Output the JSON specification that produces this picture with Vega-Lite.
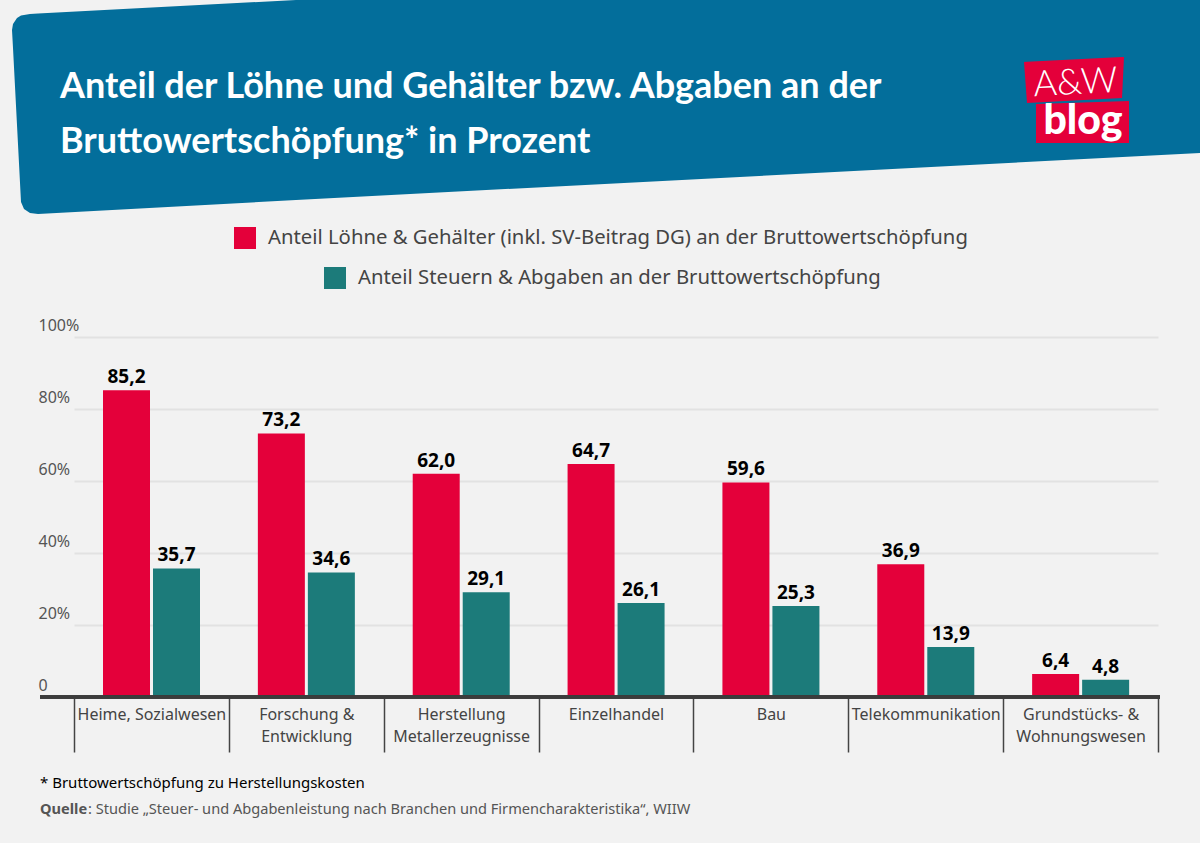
{
  "$schema": "https://vega.github.io/schema/vega-lite/v6.json",
  "width": 1120,
  "height": 360,
  "autosize": {"type": "none"},
  "padding": {"left": 40, "top": 337, "right": 40, "bottom": 146},
  "background": "#f2f2f2",
  "title": {
    "text": ["Anteil der Löhne und Gehälter bzw. Abgaben an der", "Bruttowertschöpfung* in Prozent"],
    "anchor": "start",
    "frame": "group",
    "dx": 20,
    "offset": -161,
    "font": "Lato",
    "fontSize": 36,
    "fontWeight": "bold",
    "lineHeight": 55,
    "color": "#ffffff"
  },
  "layer": [
    {
      "encoding": {
        "x": {"field": "px", "type": "quantitative", "scale": {"domain": [0, 1200], "range": [-40, 1160]}, "axis": null},
        "y": {"field": "py", "type": "quantitative", "scale": {"domain": [0, 843], "range": [-337, 506]}, "axis": null, "stack": null}
      },
      "layer": [
        {
          "data": {"values": [
            {"px": 12, "py": 30, "py2": 30},
            {"px": 13, "py": 24, "py2": 48},
            {"px": 17, "py": 18, "py2": 125},
            {"px": 21, "py": 15.5, "py2": 202},
            {"px": 24, "py": 15, "py2": 209},
            {"px": 30, "py": 14, "py2": 213},
            {"px": 38, "py": 13.6, "py2": 214},
            {"px": 296, "py": 0, "py2": 200},
            {"px": 1200, "py": 0, "py2": 153}
          ]},
          "mark": {"type": "area", "color": "#036e9b", "orient": "vertical"},
          "encoding": {"y2": {"field": "py2"}}
        },
        {
          "data": {"values": [
            {"px": 1024, "py": 62, "py2": 62},
            {"px": 1027, "py": 61.8, "py2": 103},
            {"px": 1122, "py": 57, "py2": 98},
            {"px": 1124, "py": 57, "py2": 57}
          ]},
          "mark": {"type": "area", "color": "#e4003a", "orient": "vertical"},
          "encoding": {"y2": {"field": "py2"}}
        },
        {
          "data": {"values": [
            {"px": 1036, "py": 104, "py2": 143},
            {"px": 1129, "py": 101, "py2": 143}
          ]},
          "mark": {"type": "area", "color": "#e4003a", "orient": "vertical"},
          "encoding": {"y2": {"field": "py2"}}
        },
        {
          "data": {"values": [{"text": "A&W", "px": 1076, "py": 94}]},
          "mark": {"type": "text", "font": "Lato", "fontWeight": 300, "fontSize": 36, "color": "#ffffff", "angle": -3, "align": "center", "baseline": "alphabetic"},
          "encoding": {"text": {"field": "text"}}
        },
        {
          "data": {"values": [{"text": "blog", "px": 1083, "py": 134}]},
          "mark": {"type": "text", "font": "Lato", "fontWeight": 900, "fontSize": 41, "color": "#ffffff", "align": "center", "baseline": "alphabetic"},
          "encoding": {"text": {"field": "text"}}
        },
        {
          "data": {"values": [{"text": "* Bruttowertschöpfung zu Herstellungskosten", "px": 40, "py": 788}]},
          "mark": {"type": "text", "font": "Noto Sans", "fontSize": 15, "color": "#000000", "align": "left", "baseline": "alphabetic"},
          "encoding": {"text": {"field": "text"}}
        },
        {
          "data": {"values": [{"text": "Quelle", "px": 40, "py": 814}]},
          "mark": {"type": "text", "font": "Noto Sans", "fontWeight": "bold", "fontSize": 14.6, "color": "#555555", "align": "left", "baseline": "alphabetic"},
          "encoding": {"text": {"field": "text"}}
        },
        {
          "data": {"values": [{"text": ": Studie „Steuer- und Abgabenleistung nach Branchen und Firmencharakteristika“, WIIW", "px": 88, "py": 814}]},
          "mark": {"type": "text", "font": "Noto Sans", "fontSize": 14.6, "color": "#555555", "align": "left", "baseline": "alphabetic"},
          "encoding": {"text": {"field": "text"}}
        }
      ]
    },
    {
      "data": {
        "values": [
          {"branche": "Heime, Sozialwesen", "serie": "Anteil Löhne & Gehälter (inkl. SV-Beitrag DG) an der Bruttowertschöpfung", "wert": 85.2, "label": "85,2"},
          {"branche": "Heime, Sozialwesen", "serie": "Anteil Steuern & Abgaben an der Bruttowertschöpfung", "wert": 35.7, "label": "35,7"},
          {"branche": "Forschung &|Entwicklung", "serie": "Anteil Löhne & Gehälter (inkl. SV-Beitrag DG) an der Bruttowertschöpfung", "wert": 73.2, "label": "73,2"},
          {"branche": "Forschung &|Entwicklung", "serie": "Anteil Steuern & Abgaben an der Bruttowertschöpfung", "wert": 34.6, "label": "34,6"},
          {"branche": "Herstellung|Metallerzeugnisse", "serie": "Anteil Löhne & Gehälter (inkl. SV-Beitrag DG) an der Bruttowertschöpfung", "wert": 62.0, "label": "62,0"},
          {"branche": "Herstellung|Metallerzeugnisse", "serie": "Anteil Steuern & Abgaben an der Bruttowertschöpfung", "wert": 29.1, "label": "29,1"},
          {"branche": "Einzelhandel", "serie": "Anteil Löhne & Gehälter (inkl. SV-Beitrag DG) an der Bruttowertschöpfung", "wert": 64.7, "label": "64,7"},
          {"branche": "Einzelhandel", "serie": "Anteil Steuern & Abgaben an der Bruttowertschöpfung", "wert": 26.1, "label": "26,1"},
          {"branche": "Bau", "serie": "Anteil Löhne & Gehälter (inkl. SV-Beitrag DG) an der Bruttowertschöpfung", "wert": 59.6, "label": "59,6"},
          {"branche": "Bau", "serie": "Anteil Steuern & Abgaben an der Bruttowertschöpfung", "wert": 25.3, "label": "25,3"},
          {"branche": "Telekommunikation", "serie": "Anteil Löhne & Gehälter (inkl. SV-Beitrag DG) an der Bruttowertschöpfung", "wert": 36.9, "label": "36,9"},
          {"branche": "Telekommunikation", "serie": "Anteil Steuern & Abgaben an der Bruttowertschöpfung", "wert": 13.9, "label": "13,9"},
          {"branche": "Grundstücks- &|Wohnungswesen", "serie": "Anteil Löhne & Gehälter (inkl. SV-Beitrag DG) an der Bruttowertschöpfung", "wert": 6.4, "label": "6,4"},
          {"branche": "Grundstücks- &|Wohnungswesen", "serie": "Anteil Steuern & Abgaben an der Bruttowertschöpfung", "wert": 4.8, "label": "4,8"}
        ]
      },
      "encoding": {
        "x": {
          "field": "branche",
          "type": "nominal",
          "sort": null,
          "scale": {"range": [34, 1118], "paddingInner": 0, "paddingOuter": 0},
          "axis": {
            "orient": "bottom",
            "title": null,
            "labelAngle": 0,
            "labelExpr": "split(datum.label, '|')",
            "labelFont": "Noto Sans",
            "labelFontSize": 16,
            "labelColor": "#444444",
            "labelLineHeight": 22,
            "labelLimit": 200,
            "labelPadding": -46,
            "labelBaseline": "top",
            "domain": false,
            "ticks": true,
            "tickBand": "extent",
            "tickSize": 55,
            "tickColor": "#444444",
            "tickWidth": 1.5,
            "grid": false
          }
        },
        "xOffset": {
          "field": "serie",
          "type": "nominal",
          "sort": null,
          "scale": {
            "domain": ["Anteil Löhne & Gehälter (inkl. SV-Beitrag DG) an der Bruttowertschöpfung", "Anteil Steuern & Abgaben an der Bruttowertschöpfung"],
            "range": [29, 126],
            "paddingInner": 0.06
          }
        },
        "y": {
          "field": "wert",
          "type": "quantitative",
          "scale": {"domain": [0, 100]},
          "axis": {
            "orient": "left",
            "title": null,
            "values": [0, 20, 40, 60, 80, 100],
            "labelExpr": "datum.value == 0 ? '0' : datum.value + '%'",
            "labelFont": "Noto Sans",
            "labelFontSize": 16,
            "labelColor": "#555555",
            "labelAlign": "left",
            "labelBaseline": "bottom",
            "labelPadding": 2,
            "labelOffset": -4,
            "domain": false,
            "ticks": false,
            "grid": true,
            "gridColor": "#e2e2e2",
            "gridWidth": 2
          }
        }
      },
      "layer": [
        {
          "transform": [{"filter": "indexof(datum.serie, 'Löhne') >= 0"}],
          "mark": {"type": "bar"},
          "encoding": {
            "color": {
              "field": "serie",
              "type": "nominal",
              "scale": {"range": ["#e4003a"]},
              "legend": {"orient": "none", "legendX": 194, "legendY": -110, "title": null, "symbolType": "square", "symbolSize": 484, "symbolStrokeWidth": 0, "labelFont": "Noto Sans", "labelFontSize": 20.3, "labelColor": "#444444", "labelLimit": 800, "labelOffset": 12}
            }
          }
        },
        {
          "transform": [{"filter": "indexof(datum.serie, 'Steuern') >= 0"}],
          "mark": {"type": "bar"},
          "encoding": {
            "color": {
              "field": "serie",
              "type": "nominal",
              "scale": {"range": ["#1c7b7a"]},
              "legend": {"orient": "none", "legendX": 284, "legendY": -70, "title": null, "symbolType": "square", "symbolSize": 484, "symbolStrokeWidth": 0, "labelFont": "Noto Sans", "labelFontSize": 20.3, "labelColor": "#444444", "labelLimit": 800, "labelOffset": 12}
            }
          }
        },
        {
          "mark": {"type": "rule", "color": "#3c3c3c", "strokeWidth": 2.5},
          "encoding": {"y": {"datum": 0}, "x": null, "xOffset": null}
        },
        {
          "mark": {"type": "text", "font": "Noto Sans", "fontWeight": "bold", "fontSize": 19, "color": "#000000", "baseline": "bottom", "dy": -3},
          "encoding": {"text": {"field": "label"}}
        }
      ],
      "resolve": {"scale": {"color": "independent"}, "legend": {"color": "independent"}}
    }
  ],
  "resolve": {"scale": {"x": "independent", "y": "independent", "color": "independent"}, "axis": {"x": "independent", "y": "independent"}, "legend": {"color": "independent"}},
  "config": {"view": {"stroke": null}}
}
